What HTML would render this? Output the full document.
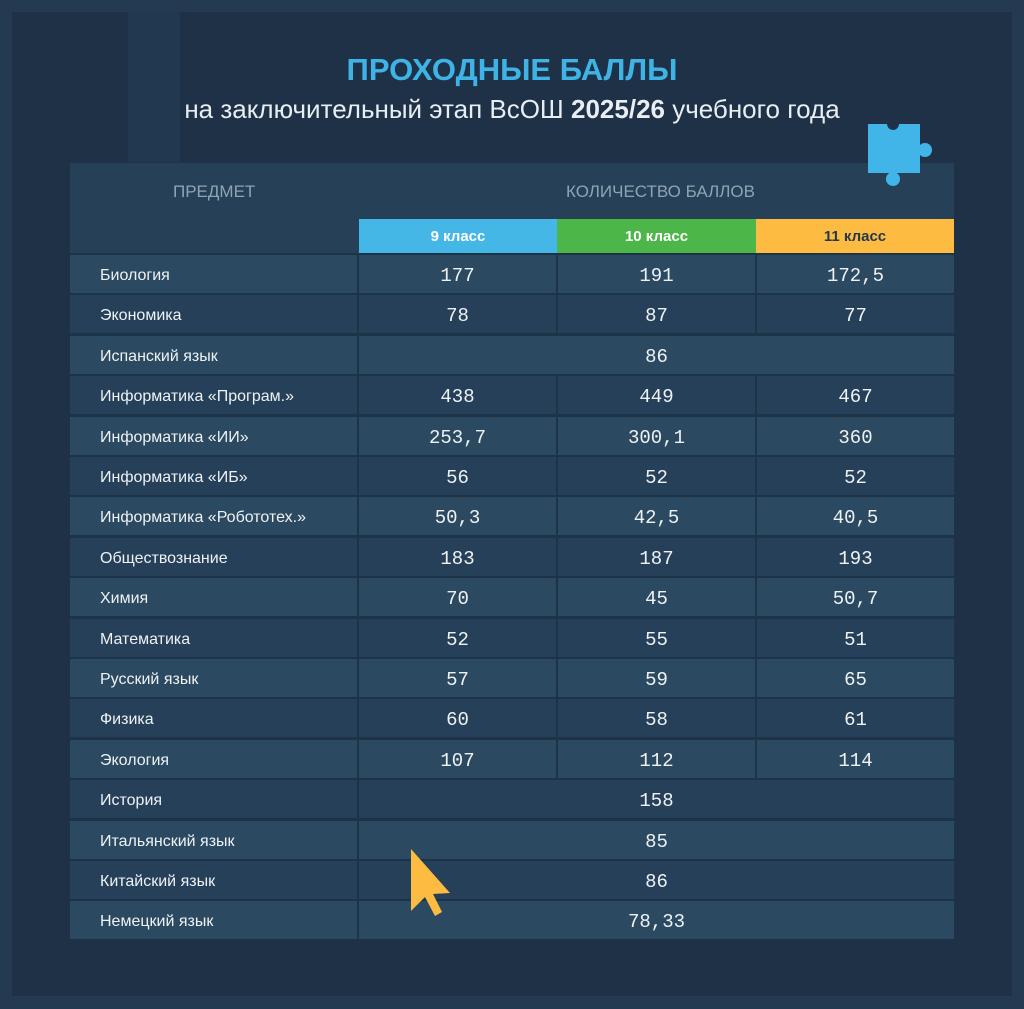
<!DOCTYPE html>
<html><head><meta charset="utf-8"><style>
*{margin:0;padding:0;box-sizing:border-box}
body{width:1024px;height:1009px;background:#233a50;position:relative;overflow:hidden;font-family:"Liberation Sans","DejaVu Sans",sans-serif}
.in{position:absolute;left:12px;top:12px;width:1000px;height:984px;background:#1e3147}
.d{position:absolute}
.t1{position:absolute;left:0;width:1024px;top:52px;text-align:center;color:#3fb3e6;font-size:31px;font-weight:bold}
.t2{position:absolute;left:0;width:1024px;top:94px;text-align:center;color:#e8eef3;font-size:26px}
.tb{position:absolute;left:70px;top:163px;width:884px;height:778px;background:#1d3347}
.hd{position:absolute;left:0;top:0;width:884px;height:90px;background:#264157}
.hl{position:absolute;color:#8fa3b5;font-size:17px;top:19px}
.cb{position:absolute;top:56px;height:34px;text-align:center;line-height:36px;font-size:15px;font-weight:bold}
.r{position:absolute;left:0;width:884px;height:38px}
.c{position:absolute;top:0;height:38px;line-height:42px;color:#eef2f5;font-size:16px}
.n{text-align:center;font-family:"Liberation Mono","DejaVu Sans Mono",monospace;font-size:19px}
</style></head><body>
<div class="in"></div>
<div class="d" style="left:128px;top:12px;width:52px;height:150px;background:#213850"></div>
<div class="t1">ПРОХОДНЫЕ БАЛЛЫ</div>
<div class="t2">на заключительный этап ВсОШ <b>2025/26</b> учебного года</div>
<div class="tb">
<div class="hd"></div>
<div class="hl" style="left:103px">ПРЕДМЕТ</div>
<div class="hl" style="left:496px">КОЛИЧЕСТВО БАЛЛОВ</div>
<div class="cb" style="left:289px;width:198px;background:#44b7e7;color:#fff">9 класс</div>
<div class="cb" style="left:487px;width:199px;background:#4cb748;color:#fff">10 класс</div>
<div class="cb" style="left:686px;width:198px;background:#fdbb42;color:#24384c">11 класс</div>
<div id="rows"></div>
</div>
<svg class="d" style="left:860px;top:118px" width="80" height="76" viewBox="0 0 80 76">
<path d="M8 6H27A6 6 0 0 0 39 6H60V55H8Z" fill="#42b5e8"/>
<circle cx="65" cy="32" r="7" fill="#42b5e8"/>
<rect x="58" y="28" width="6" height="8" fill="#42b5e8"/>
<circle cx="33" cy="61" r="7" fill="#42b5e8"/>
</svg>
<svg class="d" style="left:408px;top:847px" width="46" height="70" viewBox="0 0 46 70"><path d="M3 2L3 64L17 50L27 69L34 65L25 47L42 46Z" fill="#fdbb42"/></svg>
<script>
var d=[["Биология","177","191","172,5"],["Экономика","78","87","77"],["Испанский язык","86"],["Информатика  «Програм.»","438","449","467"],["Информатика «ИИ»","253,7","300,1","360"],["Информатика «ИБ»","56","52","52"],["Информатика «Робототех.»","50,3","42,5","40,5"],["Обществознание","183","187","193"],["Химия","70","45","50,7"],["Математика","52","55","51"],["Русский язык","57","59","65"],["Физика","60","58","61"],["Экология","107","112","114"],["История","158"],["Итальянский язык","85"],["Китайский язык","86"],["Немецкий язык","78,33"]];
var h="";
d.forEach(function(r,i){var top=92+i*40.4,bg=i%2?"#26405a":"#2b4a61";
h+='<div class="r" style="top:'+top+'px">';
h+='<div class="c" style="left:0;width:287px;background:'+bg+';padding-left:30px">'+r[0]+'</div>';
if(r.length==2){h+='<div class="c n" style="left:289px;width:595px;background:'+bg+'">'+r[1]+'</div>';}
else{h+='<div class="c n" style="left:289px;width:197px;background:'+bg+'">'+r[1]+'</div><div class="c n" style="left:488px;width:197px;background:'+bg+'">'+r[2]+'</div><div class="c n" style="left:687px;width:197px;background:'+bg+'">'+r[3]+'</div>';}
h+='</div>';});
document.getElementById("rows").innerHTML=h;
</script>
</body></html>
